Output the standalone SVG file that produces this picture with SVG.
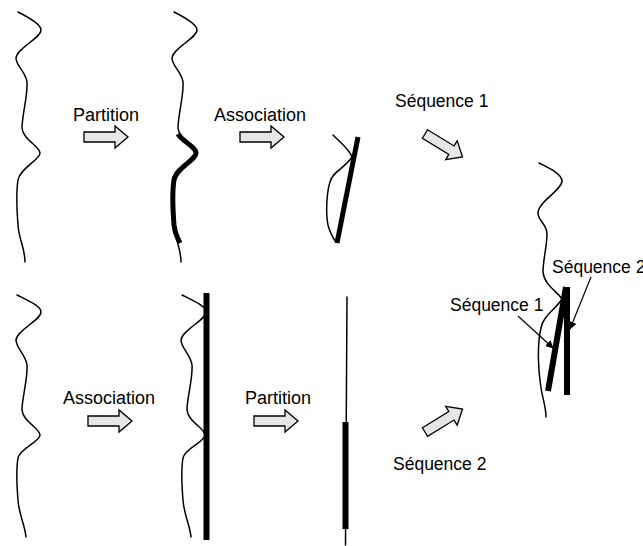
<svg xmlns="http://www.w3.org/2000/svg" xmlns:xlink="http://www.w3.org/1999/xlink" width="643" height="546" viewBox="0 0 643 546">
<style>
.thin{fill:none;stroke:#000;stroke-width:1.5;stroke-linecap:round}
.thick{fill:none;stroke:#000;stroke-width:5}
.bar{fill:none;stroke:#000;stroke-width:6}
.blk{fill:#e6e6e6;stroke:#000;stroke-width:1.3;stroke-linejoin:miter}
.lbl{font-family:"Liberation Sans",Arial,sans-serif;font-size:18px;fill:#000}
.seq{font-size:17.5px}
.lead{fill:none;stroke:#000;stroke-width:1.2}
</style>
<defs>
<path id="arr" d="M0,-5 H31 V-11 L44,0 L31,11 V5 H0 Z"/>
<path id="waveA" d="M18,12 C28,17 41,24 41,30 C41,38 17,48 16,58 C16,66 26,72 27,82 C28,95 22,115 22,128 C23,140 40,146 40,153 C40,160 20,168 18,180 C16,192 17,212 18,225 C19,240 25,248 25,262"/>
<path id="waveC" d="M17,295 C27,300 41,306 41,312 C41,320 17,330 16,340 C16,348 26,355 27,365 C28,378 22,398 22,410 C23,422 40,428 40,435 C40,442 20,448 18,458 C16,470 17,488 18,500 C19,515 25,525 26,537"/>
<marker id="ah" viewBox="0 0 10 10" refX="9" refY="5" markerWidth="8" markerHeight="8" markerUnits="userSpaceOnUse" orient="auto">
<path d="M0,0 L10,5 L0,10 Z" fill="#000"/>
</marker>
</defs>

<g id="chain-top-1">
<use xlink:href="#waveA" class="thin"/>
</g>
<g id="chain-top-2">
<use xlink:href="#waveA" class="thin" transform="translate(156,0)"/>
<path class="thick" d="M178,134 C182,141 196,147 196,153 C196,160 176,168 174,180 C172,192 173,212 174,225 C175,235 178,238 180,243"/>
</g>
<g id="chain-top-3">
<path class="thin" d="M333,135 C340,142 350,150 352,157 C345,168 332,172 330,182 C326,195 326,215 328,225 C330,233 333,238 336,242"/>
<line class="thick" x1="358" y1="137" x2="337" y2="243"/>
</g>
<g id="chain-result">
<path class="thin" d="M539,163 C549,168 562,174 562,181 C562,190 538,202 538,213 C538,221 547,224 547,234 C547,246 543,260 543,272 C544,285 558,292 562,299 C555,310 543,316 541,328 C537,345 538,370 541,388 C543,400 546,408 546,417"/>
<line class="bar" x1="566" y1="287" x2="548" y2="391"/>
<line class="bar" x1="567" y1="287" x2="567" y2="395"/>
</g>
<g id="chain-bot-1">
<use xlink:href="#waveC" class="thin"/>
</g>
<g id="chain-bot-2">
<use xlink:href="#waveC" class="thin" transform="translate(165,0)"/>
<line class="bar" x1="206.5" y1="293" x2="206.5" y2="540"/>
</g>
<g id="chain-bot-3">
<line class="thin" x1="347" y1="297" x2="345.5" y2="545"/>
<line class="bar" x1="345.5" y1="422" x2="345.5" y2="529"/>
</g>

<g id="labels">
<text class="lbl" x="73" y="121">Partition</text>
<text class="lbl" x="214" y="121">Association</text>
<text class="lbl seq" x="395" y="107">Séquence 1</text>
<text class="lbl seq" x="552" y="273">Séquence 2</text>
<text class="lbl seq" x="450" y="311">Séquence 1</text>
<text class="lbl" x="63" y="404">Association</text>
<text class="lbl" x="245" y="404">Partition</text>
<text class="lbl seq" x="393" y="470">Séquence 2</text>
</g>

<g id="connectors">
<use xlink:href="#arr" class="blk" transform="translate(84,137)"/>
<use xlink:href="#arr" class="blk" transform="translate(240,137)"/>
<use xlink:href="#arr" class="blk" transform="translate(425,134) rotate(31.5)"/>
<use xlink:href="#arr" class="blk" transform="translate(88,421)"/>
<use xlink:href="#arr" class="blk" transform="translate(254,421)"/>
<use xlink:href="#arr" class="blk" transform="translate(425,432) rotate(-31.5)"/>
<line class="lead" x1="591" y1="277" x2="570" y2="329" marker-end="url(#ah)"/>
<line class="lead" x1="518" y1="316" x2="553" y2="348" marker-end="url(#ah)"/>
</g>
</svg>
